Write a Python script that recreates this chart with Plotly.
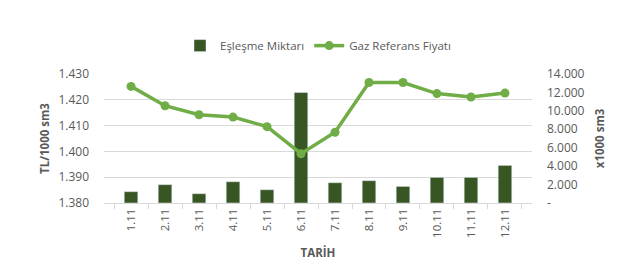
import plotly.graph_objects as go

dates = ["1.11", "2.11", "3.11", "4.11", "5.11", "6.11", "7.11", "8.11", "9.11", "10.11", "11.11", "12.11"]
eslesme = [1230, 1990, 1010, 2310, 1440, 12000, 2200, 2420, 1800, 2780, 2780, 4080]
fiyat = [1.4252, 1.4177, 1.4142, 1.4133, 1.4096, 1.3991, 1.4074, 1.4267, 1.4267, 1.4224, 1.4211, 1.4226]

left_vals = [1.38, 1.39, 1.40, 1.41, 1.42, 1.43]
left_text = ["1.380", "1.390", "1.400", "1.410", "1.420", "1.430"]
right_vals = [0, 2000, 4000, 6000, 8000, 10000, 12000, 14000]
right_text = ["-", "2.000", "4.000", "6.000", "8.000", "10.000", "12.000", "14.000"]

font_family = "Open Sans, Liberation Sans, sans-serif"
txt = "#595959"

fig = go.Figure()
# bars on primary axis (drawn on the right), line on overlaying axis (drawn on the left, on top)
fig.add_trace(go.Bar(x=dates, y=eslesme, name="Eşleşme Miktarı", marker_color="#375623",
                     width=0.4, yaxis="y"))
fig.add_trace(go.Scatter(x=dates, y=fiyat, name="Gaz Referans Fiyatı", mode="lines+markers",
                         line=dict(color="#70AD47", width=3.5), marker=dict(size=9, color="#70AD47"),
                         yaxis="y2"))

fig.update_layout(
    width=631, height=274,
    margin=dict(l=104, r=99, t=74, b=71),
    paper_bgcolor="white", plot_bgcolor="white",
    font=dict(family=font_family, size=12, color=txt),
    showlegend=True,
    legend=dict(orientation="h", x=0.5, xanchor="center", y=1.22, yanchor="middle",
                font=dict(size=11.5, color=txt), traceorder="normal"),
    xaxis=dict(type="category", tickangle=-90, showgrid=False, showline=True, linecolor="#d9d9d9",
               ticks="outside", tickson="boundaries", tickcolor="#d9d9d9", ticklen=5,
               tickfont=dict(size=11.5, color=txt),
               title=dict(text="<b>TARİH</b>", font=dict(size=11.5, color=txt), standoff=12)),
    yaxis=dict(range=[0, 14000], tickvals=right_vals, ticktext=right_text, side="right",
               showgrid=False, zeroline=False, ticks="", ticklabelstandoff=14,
               tickfont=dict(size=12, color=txt),
               title=dict(text="<b>x1000 sm3</b>", font=dict(size=11.5, color=txt), standoff=12)),
    yaxis2=dict(range=[1.38, 1.43], tickvals=left_vals, ticktext=left_text, overlaying="y", side="left",
                showgrid=True, gridcolor="#d9d9d9", zeroline=False, ticks="", ticklabelstandoff=14,
                tickfont=dict(size=12, color=txt),
                title=dict(text="<b>TL/1000 sm3</b>", font=dict(size=11.5, color=txt), standoff=6)),
)
fig.write_html("out.html")
